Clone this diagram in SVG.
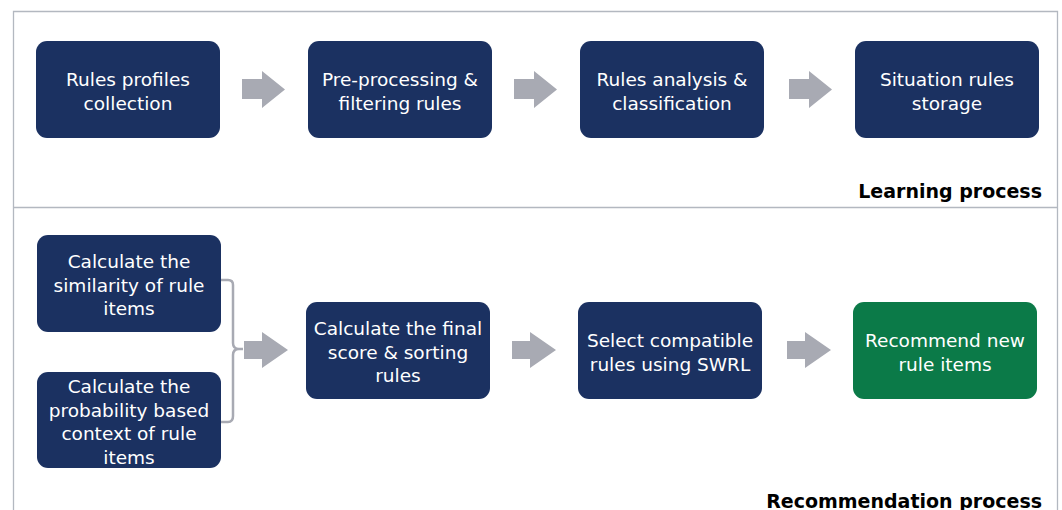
<svg xmlns="http://www.w3.org/2000/svg" width="1062" height="510" viewBox="0 0 1062 510">
  <style>
    .box { fill: #1b3161; }
    .green { fill: #0b7a48; }
    .t { font-family: "DejaVu Sans", Verdana, sans-serif; font-size: 18.5px; fill: #ffffff; text-anchor: middle; }
    .lbl { font-family: "DejaVu Sans", Verdana, sans-serif; font-size: 19px; font-weight: bold; fill: #000000; text-anchor: end; }
    .frame { fill: none; stroke: #b3b8c0; stroke-width: 1.3; }
    .arrow { fill: #a8aab3; }
    .brace { fill: none; stroke: #a8aab3; stroke-width: 2.5; }
  </style>
  <rect width="1062" height="510" fill="#ffffff"/>
  <g id="frame">
    <path class="frame" d="M13.5,510 V11.5 H1057.5 V510"/>
    <line class="frame" x1="13.5" y1="207.5" x2="1057.5" y2="207.5"/>
    <text class="lbl" x="1042" y="198">Learning process</text>
    <text class="lbl" x="1042" y="508">Recommendation process</text>
  </g>
  <g id="connectors">
    <path class="arrow" d="M242,79 H262 V71 L285,89.5 L262,108 V99 H242 Z"/>
    <path class="arrow" d="M514,79 H534 V71 L557,89.5 L534,108 V99 H514 Z"/>
    <path class="arrow" d="M789,79 H809 V71 L832,89.5 L809,108 V99 H789 Z"/>
    <path class="brace" d="M221,280 H228 Q233,280 233,285 V343 Q233,349 239,349 H243 M239,349 Q233,349 233,355 V416 Q233,422 228,422 H221"/>
    <path class="arrow" d="M244,341 H262 V332 L288,350 L262,368 V359 H244 Z"/>
    <path class="arrow" d="M512,341 H530 V332 L556,350 L530,368 V359 H512 Z"/>
    <path class="arrow" d="M787,341 H805 V332 L831,350 L805,368 V359 H787 Z"/>
  </g>
  <g id="n1">
    <rect class="box" x="36" y="41" width="184" height="97" rx="11"/>
    <text class="t" x="128" y="86">Rules profiles</text>
    <text class="t" x="128" y="110">collection</text>
  </g>
  <g id="n2">
    <rect class="box" x="308" y="41" width="184" height="97" rx="11"/>
    <text class="t" x="400" y="86">Pre-processing &amp;</text>
    <text class="t" x="400" y="110">filtering rules</text>
  </g>
  <g id="n3">
    <rect class="box" x="580" y="41" width="184" height="97" rx="11"/>
    <text class="t" x="672" y="86">Rules analysis &amp;</text>
    <text class="t" x="672" y="110">classification</text>
  </g>
  <g id="n4">
    <rect class="box" x="855" y="41" width="184" height="97" rx="11"/>
    <text class="t" x="947" y="86">Situation rules</text>
    <text class="t" x="947" y="110">storage</text>
  </g>
  <g id="n5">
    <rect class="box" x="37" y="235" width="184" height="97" rx="11"/>
    <text class="t" x="129" y="268">Calculate the</text>
    <text class="t" x="129" y="292">similarity of rule</text>
    <text class="t" x="129" y="315">items</text>
  </g>
  <g id="n6">
    <rect class="box" x="37" y="372" width="184" height="96" rx="11"/>
    <text class="t" x="129" y="393">Calculate the</text>
    <text class="t" x="129" y="417">probability based</text>
    <text class="t" x="129" y="440">context of rule</text>
    <text class="t" x="129" y="464">items</text>
  </g>
  <g id="n7">
    <rect class="box" x="306" y="302" width="184" height="97" rx="11"/>
    <text class="t" x="398" y="335">Calculate the final</text>
    <text class="t" x="398" y="359">score &amp; sorting</text>
    <text class="t" x="398" y="382">rules</text>
  </g>
  <g id="n8">
    <rect class="box" x="578" y="302" width="184" height="97" rx="11"/>
    <text class="t" x="670" y="347">Select compatible</text>
    <text class="t" x="670" y="371">rules using SWRL</text>
  </g>
  <g id="n9">
    <rect class="green" x="853" y="302" width="184" height="97" rx="11"/>
    <text class="t" x="945" y="347">Recommend new</text>
    <text class="t" x="945" y="371">rule items</text>
  </g>
</svg>
